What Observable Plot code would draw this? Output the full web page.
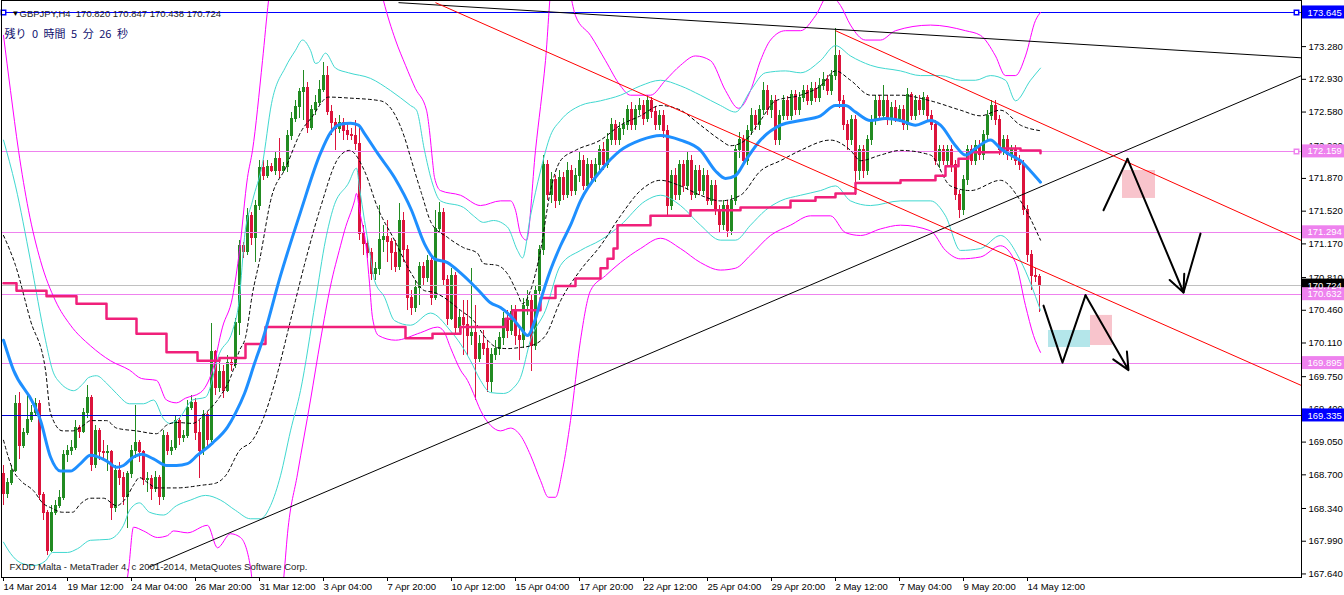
<!DOCTYPE html>
<html><head><meta charset="utf-8">
<script src="https://cdn.jsdelivr.net/npm/d3@7"></script>
<script src="https://cdn.jsdelivr.net/npm/@observablehq/plot@0.6"></script>
<style>
html,body{margin:0;padding:0;background:#fff;}
#chart svg{display:block;}
</style></head><body><div id="chart"></div>
<script>
// ---- candle data (GBPJPY H4), bar index 0 = 14 Mar 2014 20:00 ----
const opens = [168.71,168.50,168.61,168.74,169.46,169.01,169.15,169.29,169.36,169.46,
168.48,168.29,167.89,168.29,168.37,168.45,168.91,168.96,168.99,169.20,
169.16,169.36,169.52,168.80,169.17,168.94,168.93,168.94,168.34,168.74,
168.67,168.46,168.71,168.96,169.04,168.94,168.64,168.66,168.55,168.67,
168.46,169.12,168.96,168.99,169.28,169.09,169.12,169.42,169.47,169.15,
168.96,169.34,169.07,170.01,169.63,169.80,169.60,169.90,169.87,170.32,
171.15,171.08,171.47,171.23,171.58,171.98,171.90,171.99,171.95,172.08,
171.95,171.99,172.32,172.51,172.63,172.79,172.84,172.41,172.60,172.68,
172.82,172.97,172.58,172.46,172.40,172.46,172.38,172.33,172.32,172.24,
171.28,171.17,171.07,170.85,170.90,171.21,171.24,171.19,171.07,170.92,
171.42,171.10,170.59,170.48,170.70,170.92,170.80,170.99,170.59,171.33,
171.50,170.78,170.37,170.83,170.27,170.38,170.30,170.19,170.22,169.94,
170.10,170.05,169.69,169.98,170.05,170.16,170.37,170.24,170.44,170.19,
170.14,170.51,170.56,170.08,170.67,171.10,172.01,171.69,171.85,171.63,
171.87,171.69,171.95,171.74,171.90,172.06,171.79,172.01,171.87,172.01,
172.17,172.01,172.28,172.44,172.28,172.40,172.44,172.60,172.44,172.60,
172.65,172.51,172.70,172.58,172.44,172.54,172.38,171.58,171.90,171.69,
172.01,171.79,172.06,171.69,171.95,171.74,171.90,171.63,171.79,171.53,
171.37,171.58,171.31,171.63,172.17,172.28,172.06,172.38,172.54,172.44,
172.60,172.81,172.60,172.70,172.28,172.54,172.70,172.54,172.76,172.60,
172.73,172.81,172.70,172.83,172.73,172.86,172.92,172.81,172.97,173.18,
172.70,172.44,172.28,172.49,171.95,172.17,171.95,172.28,172.49,172.70,
172.54,172.70,172.49,172.62,172.51,172.60,172.44,172.76,172.54,172.70,
172.60,172.73,172.54,172.44,172.06,172.17,172.06,172.17,172.01,171.69,
171.53,171.85,172.17,172.06,172.22,172.12,172.33,172.54,172.65,172.49,
172.17,172.28,172.12,172.17,172.06,172.01,171.53,171.05,170.83,170.820];
const highs = [168.80,168.66,168.80,169.55,169.58,169.20,169.57,169.44,169.52,169.50,
168.51,168.32,168.37,168.43,168.53,168.96,169.01,169.07,169.28,169.23,
169.41,169.66,169.55,169.23,169.20,169.07,169.01,168.96,168.80,168.83,
168.72,168.74,169.01,169.44,169.07,168.96,168.72,168.69,168.74,168.69,
169.17,169.15,169.07,169.33,169.30,169.17,169.50,169.55,169.52,169.28,
169.39,169.37,170.32,170.03,169.92,169.87,169.98,169.94,170.37,171.21,
171.19,171.55,171.51,171.63,172.06,172.06,172.06,172.03,172.15,172.30,
172.04,172.38,172.58,172.70,172.83,173.02,172.90,172.65,172.76,172.92,
173.11,173.07,172.65,172.51,172.54,172.51,172.47,172.40,172.49,172.40,
171.37,171.23,171.12,170.97,171.58,171.37,171.42,171.23,171.21,171.60,
171.51,171.15,170.67,170.78,170.97,170.97,171.05,171.05,171.53,171.61,
171.55,170.83,170.91,170.86,170.46,170.56,170.56,170.91,170.51,170.19,
170.24,170.14,170.05,170.14,170.22,170.44,170.46,170.51,170.51,170.30,
170.59,170.67,170.62,170.72,171.15,172.12,172.06,171.93,171.90,171.95,
171.93,172.04,172.01,171.98,172.15,172.12,172.08,172.06,172.08,172.22,
172.25,172.35,172.51,172.49,172.47,172.51,172.65,172.68,172.65,172.73,
172.70,172.76,172.74,172.64,172.60,172.60,172.44,171.95,171.98,172.06,
172.06,172.15,172.12,172.01,172.01,171.98,171.95,171.85,171.85,171.58,
171.63,171.63,171.69,172.22,172.36,172.33,172.44,172.62,172.60,172.65,
172.90,172.86,172.76,172.76,172.60,172.76,172.75,172.81,172.81,172.79,
172.86,172.86,172.90,172.90,172.94,173.00,172.97,173.02,173.47,173.24,
172.76,172.49,172.54,172.54,172.22,172.22,172.33,172.54,172.76,172.76,
172.86,172.76,172.68,172.70,172.65,172.65,172.83,172.79,172.76,172.76,
172.79,172.76,172.60,172.49,172.22,172.22,172.22,172.22,172.06,171.74,
171.90,172.22,172.22,172.28,172.28,172.38,172.60,172.70,172.70,172.54,
172.33,172.33,172.22,172.22,172.12,172.06,171.58,171.10,170.91,170.847];
const lows = [168.37,168.45,168.59,168.72,168.86,168.98,169.12,169.26,169.32,168.43,
168.21,167.84,167.87,168.27,168.34,168.43,168.83,168.91,168.96,169.09,
169.14,169.30,168.74,168.77,168.85,168.85,168.74,168.21,168.30,168.59,
168.37,168.13,168.66,168.87,168.83,168.59,168.51,168.43,168.51,168.37,
168.43,168.91,168.91,168.96,169.01,169.05,169.09,169.39,169.07,168.66,
168.91,168.98,169.05,169.55,169.58,169.52,169.58,169.80,169.84,170.19,
171.01,171.05,171.15,170.97,171.53,171.85,171.87,171.93,171.90,171.87,
171.93,171.93,172.28,172.47,172.51,172.49,172.35,172.38,172.54,172.65,
172.79,172.54,172.33,172.17,172.35,172.28,172.28,172.28,172.17,171.21,
171.05,171.01,170.78,170.78,170.83,171.08,170.97,170.89,170.86,170.89,
170.97,170.46,170.40,170.44,170.51,170.72,170.76,170.51,170.56,171.29,
170.72,170.30,170.35,170.19,170.22,169.98,169.98,170.08,169.50,169.90,
169.98,169.58,169.58,169.92,169.98,170.08,170.16,170.19,170.08,169.92,
170.05,170.40,169.80,170.03,170.62,171.05,171.63,171.60,171.55,171.58,
171.63,171.66,171.68,171.69,171.83,171.74,171.74,171.79,171.83,171.95,
171.95,171.98,172.22,172.22,172.22,172.33,172.38,172.38,172.38,172.54,
172.44,172.47,172.51,172.38,172.38,172.30,171.47,171.53,171.63,171.63,
171.72,171.74,171.63,171.66,171.69,171.69,171.58,171.58,171.47,171.29,
171.31,171.24,171.26,171.58,172.08,172.01,172.01,172.33,172.38,172.38,
172.54,172.54,172.51,172.22,172.22,172.49,172.49,172.49,172.54,172.54,
172.68,172.65,172.65,172.68,172.68,172.81,172.76,172.76,172.92,172.62,
172.38,172.17,172.22,171.69,171.85,171.87,171.90,172.22,172.44,172.49,
172.49,172.44,172.44,172.47,172.47,172.38,172.38,172.49,172.49,172.54,
172.54,172.49,172.38,172.01,171.98,172.01,172.01,171.93,171.63,171.44,
171.47,171.79,172.01,172.01,172.06,172.06,172.28,172.49,172.44,172.12,
172.12,172.06,172.06,172.01,171.95,171.47,170.97,170.67,170.76,170.438];
const closes = [168.50,168.61,168.74,169.46,169.01,169.15,169.29,169.36,169.46,168.48,
168.29,167.89,168.29,168.37,168.45,168.91,168.96,168.99,169.20,169.16,
169.36,169.52,168.80,169.17,168.94,168.93,168.94,168.34,168.74,168.67,
168.46,168.71,168.96,169.04,168.94,168.64,168.66,168.55,168.67,168.46,
169.12,168.96,168.99,169.28,169.09,169.12,169.42,169.47,169.15,168.96,
169.34,169.07,170.01,169.63,169.80,169.60,169.90,169.87,170.32,171.15,
171.08,171.47,171.23,171.58,171.98,171.90,171.99,171.95,172.08,171.95,
171.99,172.32,172.51,172.63,172.79,172.84,172.41,172.60,172.68,172.82,
172.97,172.58,172.46,172.40,172.46,172.38,172.33,172.32,172.24,171.28,
171.17,171.07,170.85,170.90,171.21,171.24,171.19,171.07,170.92,171.42,
171.10,170.59,170.48,170.70,170.92,170.80,170.99,170.59,171.33,171.50,
170.78,170.37,170.83,170.27,170.38,170.30,170.19,170.22,169.94,170.10,
170.05,169.69,169.98,170.05,170.16,170.37,170.24,170.44,170.19,170.14,
170.51,170.56,170.08,170.67,171.10,172.01,171.69,171.85,171.63,171.87,
171.69,171.95,171.74,171.90,172.06,171.79,172.01,171.87,172.01,172.17,
172.01,172.28,172.44,172.28,172.40,172.44,172.60,172.44,172.60,172.65,
172.51,172.70,172.58,172.44,172.54,172.38,171.58,171.90,171.69,172.01,
171.79,172.06,171.69,171.95,171.74,171.90,171.63,171.79,171.53,171.37,
171.58,171.31,171.63,172.17,172.28,172.06,172.38,172.54,172.44,172.60,
172.81,172.60,172.70,172.28,172.54,172.70,172.54,172.76,172.60,172.73,
172.81,172.70,172.83,172.73,172.86,172.92,172.81,172.97,173.18,172.70,
172.44,172.28,172.49,171.95,172.17,171.95,172.28,172.49,172.70,172.54,
172.70,172.49,172.62,172.51,172.60,172.44,172.76,172.54,172.70,172.60,
172.73,172.54,172.44,172.06,172.17,172.06,172.17,172.01,171.69,171.53,
171.85,172.17,172.06,172.22,172.12,172.33,172.54,172.65,172.49,172.17,
172.28,172.12,172.17,172.06,172.01,171.53,171.05,170.83,170.82,170.724];

// ---- axis ticks ----
const xTickBars = [0,16,32,48,64,80,96,112,128,144,160,176,192,208,224,240,256];
const xTickLabels = ["14 Mar 2014","19 Mar 12:00","24 Mar 04:00","26 Mar 20:00","31 Mar 12:00","3 Apr 04:00","7 Apr 20:00","10 Apr 12:00","15 Apr 04:00","17 Apr 20:00","22 Apr 12:00","25 Apr 04:00","29 Apr 20:00","2 May 12:00","7 May 04:00","9 May 20:00","14 May 12:00"];
const yTicks = [173.28,172.93,172.58,172.22,171.87,171.52,171.17,170.81,170.46,170.11,169.75,169.40,169.05,168.70,168.34,167.99,167.64];

// ---- indicators: [bar, price] ----
const maBlue = [[0,170.14],[2.5,169.82],[7.5,169.46],[9.25,169.28],[11.75,168.89],[14.25,168.74],[16.75,168.74],[19.25,168.82],[21.75,168.91],[25.75,168.85],[28.25,168.78],[30,168.80],[32.5,168.89],[34.5,168.92],[37.5,168.87],[40.75,168.80],[43.25,168.80],[46,168.82],[48.5,168.91],[52.25,169.04],[56,169.21],[58,169.36],[60.25,169.57],[62.75,169.89],[64.75,170.14],[69.25,170.83],[74.25,171.51],[79.25,172.14],[81.75,172.36],[84.25,172.45],[86.75,172.46],[88.75,172.44],[90.25,172.35],[93.5,172.14],[97.75,171.88],[102,171.53],[105.25,171.17],[107.75,171.01],[111,170.97],[114.25,170.86],[116.75,170.76],[119.25,170.65],[121.75,170.54],[124.25,170.49],[126.75,170.40],[129.25,170.27],[131,170.19],[133,170.37],[134.25,170.56],[136.75,170.89],[139.25,171.15],[141.75,171.37],[144.25,171.63],[149.25,171.95],[154.25,172.17],[159.25,172.28],[164.25,172.33],[169.25,172.28],[174.25,172.17],[178,171.95],[180.5,171.87],[183,171.90],[185.5,172.06],[189.25,172.28],[194.25,172.44],[199.25,172.49],[204.25,172.54],[208,172.65],[210.5,172.65],[213,172.58],[216.75,172.49],[220.5,172.51],[224.25,172.49],[228,172.44],[231.75,172.49],[234.25,172.44],[238,172.22],[240.5,172.12],[243,172.19],[246.75,172.28],[249.25,172.19],[251.75,172.12],[254.25,172.06],[256.75,171.95],[259.25,171.83]];
const maPink = [[0,170.75],[3.25,170.67],[10.75,170.61],[18.25,170.53],[25.75,170.37],[33.25,170.21],[40.75,170.01],[48.5,169.92],[54,169.95],[60.5,170.10],[65.5,170.28],[100.5,170.16],[107.25,170.21],[114.25,170.28],[125.5,170.37],[127.25,170.46],[134.25,170.59],[138,170.72],[143,170.80],[149.25,170.91],[151,171.01],[152.5,171.12],[153.5,171.37],[161.75,171.47],[171.75,171.53],[184.25,171.56],[196.75,171.63],[203,171.67],[208,171.71],[213,171.82],[224.25,171.85],[233,171.90],[235.5,172.00],[238.75,172.08],[241.25,172.15],[249.25,172.19],[254.25,172.17],[259.25,172.14]];
const dashUpper = [[0,171.26],[3,170.94],[6.75,170.35],[10.5,169.82],[11.75,169.36],[14.75,169.17],[17.25,169.17],[20,169.23],[21.75,169.28],[25.75,169.28],[28.25,169.20],[33.25,169.17],[38.25,169.14],[40.75,169.23],[43.25,169.26],[47.25,169.25],[50.5,169.36],[54,169.53],[56.75,169.74],[59,170.03],[60.5,170.17],[62.25,170.64],[64,170.99],[67,171.67],[70.5,171.98],[74.5,172.38],[77,172.52],[81.25,172.74],[86.25,172.73],[94.25,172.70],[97.75,172.56],[100.25,172.31],[102,172.06],[104.5,171.71],[107,171.39],[111,171.24],[115,171.13],[118.5,171.07],[120,170.96],[123.5,170.94],[126,170.85],[128.5,170.64],[129.75,170.53],[131.75,170.67],[134.25,171.10],[136.75,171.74],[139.25,172.06],[143,172.17],[149.25,172.28],[154.25,172.44],[159.25,172.54],[164.25,172.65],[169.25,172.60],[174.25,172.44],[179.25,172.28],[181.75,172.22],[185.5,172.28],[189.25,172.49],[193,172.70],[199.25,172.76],[204.25,172.86],[208,173.02],[211.75,172.92],[216.75,172.76],[224.25,172.76],[231.75,172.70],[239.25,172.60],[244.25,172.54],[249.25,172.60],[254.25,172.44],[259.25,172.38]];
const dashLower = [[0,169.07],[2.5,168.74],[4.25,168.64],[7.5,168.53],[10,168.39],[11.75,168.35],[14.75,168.30],[17.25,168.30],[19.25,168.39],[21.75,168.45],[25,168.45],[28.25,168.37],[30.75,168.46],[32.5,168.59],[34,168.67],[36.25,168.61],[38.25,168.56],[43.25,168.56],[49.75,168.59],[53,168.61],[55.5,168.69],[59,168.96],[62.25,169.07],[64.75,169.28],[68,169.71],[71.75,170.35],[75.5,170.99],[79.25,171.56],[83.75,172.09],[86.5,172.17],[90.25,171.95],[93.5,171.56],[97.75,171.21],[102,170.85],[105.25,170.67],[107.75,170.65],[110,170.60],[114.25,170.46],[117.5,170.35],[121,170.14],[123.5,170.06],[126,170.05],[128.75,170.06],[131.75,170.08],[135.5,170.19],[139.25,170.56],[144.25,170.89],[149.25,171.15],[154.25,171.47],[159.25,171.74],[164.25,171.85],[169.25,171.79],[174.25,171.69],[179.25,171.63],[184.25,171.69],[189.25,171.95],[194.25,172.06],[199.25,172.17],[206.75,172.28],[211.75,172.17],[214.25,172.06],[219.25,172.12],[224.25,172.17],[231.75,172.12],[236.75,171.79],[241.75,171.74],[249.25,171.85],[254.25,171.63],[259.25,171.21]];
const cyanUpper = [[0,172.28],[3,171.79],[6.75,170.99],[10.5,170.14],[12.25,169.82],[14.25,169.68],[16,169.62],[17.5,169.60],[20,169.68],[21.25,169.74],[23.25,169.76],[25.75,169.68],[28.25,169.57],[31.5,169.46],[35,169.46],[37.5,169.50],[40,169.30],[41.5,169.25],[44,169.31],[47.25,169.50],[50.5,169.53],[54,170.00],[57.25,170.24],[59,170.60],[60.25,171.24],[62.25,171.63],[64.75,172.03],[67,172.67],[70.5,173.06],[73,173.24],[74.75,173.35],[76.75,173.24],[78,173.10],[78.75,173.11],[80.5,173.21],[83,173.05],[86.25,173.00],[91.75,172.94],[96.75,172.81],[101.75,172.65],[103.25,172.60],[105.25,172.17],[107,171.85],[109.25,171.63],[115,171.56],[117.5,171.47],[120,171.40],[122.5,171.42],[126,171.35],[128.5,171.10],[129.75,171.02],[131.75,171.47],[134.25,171.95],[136.75,172.33],[139.25,172.49],[144.25,172.65],[149.25,172.70],[154.25,172.76],[159.25,172.86],[164.25,172.92],[169.25,172.86],[174.25,172.76],[179.25,172.65],[183,172.58],[186.75,172.81],[190.5,173.00],[195.5,173.02],[199.25,173.00],[204.25,173.13],[208,173.29],[211.75,173.18],[216.75,173.08],[224.25,173.02],[229.25,172.97],[234.25,172.97],[239.25,172.92],[243,172.92],[246.75,172.97],[250.5,172.92],[253,172.70],[256.75,172.92],[259.25,173.05]];
const cyanLower = [[0,167.98],[1.75,167.86],[4.25,167.76],[7.5,167.73],[10.5,167.78],[12.25,167.87],[16,167.87],[18.5,167.91],[21.75,168.00],[26.25,168.01],[30,168.16],[31.5,168.32],[34,168.40],[36.5,168.30],[40,168.27],[43.25,168.37],[46.75,168.43],[50.5,168.48],[54.25,168.43],[58,168.32],[61.75,168.23],[64.25,168.23],[66.75,168.37],[69.25,168.69],[71.75,169.17],[74.25,169.60],[78,170.56],[80.5,171.21],[82.5,171.56],[86.25,171.82],[88.25,171.98],[89,171.77],[90.25,171.42],[91.5,171.10],[92.75,170.78],[95.25,170.60],[97.75,170.35],[101.75,170.30],[106.75,170.43],[111.75,170.24],[114.25,170.10],[116.75,169.92],[119.25,169.71],[121.75,169.58],[125,169.57],[127.5,169.63],[129.25,169.74],[131.75,170.14],[135.5,170.46],[139.25,170.94],[144.25,171.10],[149.25,171.21],[154.25,171.37],[160.5,171.63],[164.25,171.69],[169.25,171.58],[174.25,171.37],[179.25,171.21],[183,171.21],[186.75,171.37],[190.5,171.53],[194.25,171.63],[199.25,171.69],[204.25,171.74],[208,171.79],[211.75,171.63],[216.75,171.58],[224.25,171.63],[231.75,171.63],[235.5,171.47],[239.25,171.10],[244.25,171.12],[249.25,171.26],[254.25,170.99],[259.25,170.46]];
const magentaUpper = [[0,173.40],[1.75,172.81],[3.75,172.17],[6.25,171.53],[9.25,170.99],[13,170.56],[16.75,170.30],[21.75,170.08],[26.75,169.92],[31.5,169.82],[34.5,169.73],[38.25,169.71],[40.75,169.50],[43.25,169.47],[45.5,169.52],[49.25,169.58],[52.25,169.82],[54.75,170.28],[57.25,170.60],[59,171.10],[61,171.88],[62.25,172.17],[64.75,173.13],[66.25,173.77],[67.75,174.20],[93.25,174.09],[95,173.77],[98,173.35],[100.5,173.08],[103,172.83],[105.75,172.60],[106.5,172.38],[107.25,172.06],[107.75,171.88],[109.25,171.74],[114.25,171.69],[119.25,171.58],[124.25,171.63],[126.75,171.63],[128,171.53],[129.25,171.28],[130.75,171.21],[133,172.17],[135.5,173.13],[137.25,173.99],[140.5,173.99],[143,173.61],[146.75,173.40],[150.5,173.13],[154.25,172.86],[156.75,172.76],[161.75,172.76],[165.5,172.92],[169.25,173.08],[173,173.18],[176.75,173.13],[180.5,172.81],[183.75,172.62],[186.75,172.81],[189.25,173.13],[191.75,173.35],[195.5,173.45],[199.25,173.45],[203,173.61],[206.25,173.83],[209.25,173.72],[211.75,173.51],[215.5,173.35],[219.25,173.35],[223,173.45],[231.75,173.51],[240.5,173.45],[244.25,173.40],[248,173.18],[250.5,172.97],[253,172.97],[255.5,173.18],[258,173.56],[259.25,173.645]];
const magentaLower = [[28.75,167.14],[31.25,167.68],[32.5,168.14],[35,168.10],[38.5,168.03],[41,168.05],[42.5,168.10],[46,168.08],[51,168.16],[53.5,167.92],[56.75,168.07],[59.25,168.03],[61.75,167.71],[63.25,167.14],[68.75,167.14],[70,167.57],[71,168.07],[73.5,168.71],[76.75,169.50],[79.25,170.14],[81.75,170.72],[84.25,171.15],[85.25,171.31],[87.75,171.63],[88.25,171.71],[89,171.53],[90.75,171.10],[91.5,170.75],[92.25,170.38],[93.75,170.19],[98,170.14],[104.25,170.22],[108.5,170.28],[110,170.24],[111.75,170.06],[114.25,169.82],[116,169.71],[117.5,169.57],[119.25,169.39],[121.75,169.23],[124.25,169.17],[126.75,169.20],[129.25,169.12],[131.75,168.91],[134.25,168.64],[136.25,168.46],[138,168.46],[139.75,168.75],[141.75,169.28],[144.25,170.14],[146.75,170.67],[150.5,170.83],[154.25,170.97],[159.25,171.12],[164.25,171.23],[169.25,171.12],[174.25,170.97],[179.25,170.89],[183,170.91],[186.75,171.05],[191.75,171.26],[196.75,171.37],[201.75,171.47],[206.75,171.47],[210.5,171.29],[214.25,171.26],[219.25,171.33],[224.25,171.37],[231.75,171.31],[235.5,171.10],[239.25,171.01],[244.25,171.03],[249.25,171.15],[253,170.97],[255.5,170.51],[257.5,170.19],[259.25,170.01]];

// ---- drawn objects ----
const levelPrices = [173.645, 172.159, 171.294, 170.724, 170.632, 169.895, 169.335];
const levelColors = ["#0000ff", "#ee82ee", "#ee82ee", "#c0c0c0", "#ee82ee", "#ee82ee", "#0000cd"];
const levelBoxColors = ["#0000ff", "#ee82ee", "#ee82ee", "#000000", "#ee82ee", "#ee82ee", "#0000ff"];
const trendLines = [
  {x1: 98.75, y1: 173.75, x2: 324.5, y2: 173.16, color: "#000000"},
  {x1: 36.25, y1: 167.71, x2: 324.5, y2: 172.97, color: "#000000"},
  {x1: 108, y1: 173.75, x2: 324.5, y2: 169.655, color: "#ff0000"},
  {x1: 208, y1: 173.45, x2: 324.5, y2: 171.206, color: "#ff0000"}
];
const zigzagA = [[275,171.53],[281,172.08]];
const zigzagB = [[295,170.65],[299.25,171.28]];
const zigzagC = [[260,170.51],[264.75,169.90],[270.5,170.62]];
const arrowSegs = [
  {x1: 281, y1: 172.08, x2: 295, y2: 170.65},
  {x1: 270.5, y1: 170.62, x2: 281.25, y2: 169.82}
];
const boxes = [
  {x1: 279.75, x2: 288, y1: 171.955, y2: 171.656, fill: "#f8c4cc"},
  {x1: 271.75, x2: 277.25, y1: 170.405, y2: 170.083, fill: "#f8c4cc"},
  {x1: 261.25, x2: 271.75, y1: 170.244, y2: 170.062, fill: "#b4e6ea"}
];
const headerText = "GBPJPY,H4  170.820 170.847 170.438 170.724";
const timerText = "残り\u20020\u2002時間\u20025\u2002分\u200226\u2002秒";
const footerText = "FXDD Malta - MetaTrader 4, c 2001-2014, MetaQuotes Software Corp.";

const xDomain = [-0.5, 324.5];
const yDomain = [167.602, 173.773];
const UP = "#228b22", DOWN = "#dc143c";

const candles = opens.map((o, i) => ({i, o, h: highs[i], l: lows[i], c: closes[i], col: closes[i] >= o ? UP : DOWN}));
const pts = a => a.map(([x, y]) => ({x, y}));
const labelMap = new Map(xTickBars.map((b, k) => [b, xTickLabels[k]]));
const levels = levelPrices.map((p, k) => ({p, col: levelColors[k], box: levelBoxColors[k]}));
const boxHalf = 6.5 / 93.5;

const chart = Plot.plot({
  width: 1344, height: 595,
  marginTop: 0, marginBottom: 18, marginLeft: 1, marginRight: 43,
  x: {domain: xDomain, axis: null},
  y: {domain: yDomain, axis: null},
  style: {fontFamily: "'Liberation Sans', Arial, sans-serif", fontSize: "9.5px", background: "#fff", color: "#000", overflow: "visible"},
  marks: [
    Plot.rect(boxes, {x1: "x1", x2: "x2", y1: "y1", y2: "y2", fill: "fill"}),
    Plot.ruleX(candles, {x: "i", y1: "l", y2: "h", stroke: "col", strokeWidth: 1, shapeRendering: "crispEdges"}),
    Plot.rect(candles, {x1: d => d.i - 0.375, x2: d => d.i + 0.375, y1: "o", y2: "c", fill: "col", insetTop: -0.5, insetBottom: -0.5, shapeRendering: "crispEdges"}),
    Plot.ruleY(levels, {y: "p", stroke: "col", strokeWidth: 1, shapeRendering: "crispEdges"}),
    Plot.line(pts(magentaUpper), {x: "x", y: "y", stroke: "#ff00ff", strokeWidth: 1, curve: "monotone-x", clip: true}),
    Plot.line(pts(magentaLower), {x: "x", y: "y", stroke: "#ff00ff", strokeWidth: 1, curve: "monotone-x", clip: true}),
    Plot.line(pts(cyanUpper), {x: "x", y: "y", stroke: "#40d8d0", strokeWidth: 1, curve: "monotone-x", clip: true}),
    Plot.line(pts(cyanLower), {x: "x", y: "y", stroke: "#40d8d0", strokeWidth: 1, curve: "monotone-x", clip: true}),
    Plot.line(pts(dashUpper), {x: "x", y: "y", stroke: "#000", strokeWidth: 1, strokeDasharray: "3,3", curve: "monotone-x", clip: true}),
    Plot.line(pts(dashLower), {x: "x", y: "y", stroke: "#000", strokeWidth: 1, strokeDasharray: "3,3", curve: "monotone-x", clip: true}),
    Plot.line(pts(maPink), {x: "x", y: "y", stroke: "#f0207a", strokeWidth: 2.5, curve: "step-after", clip: true}),
    Plot.line(pts(maBlue), {x: "x", y: "y", stroke: "#1e8fff", strokeWidth: 3, curve: "monotone-x", clip: true}),
    Plot.link(trendLines, {x1: "x1", y1: "y1", x2: "x2", y2: "y2", stroke: "color", strokeWidth: 1, clip: true}),
    Plot.line(pts(zigzagA), {x: "x", y: "y", stroke: "#000", strokeWidth: 2}),
    Plot.line(pts(zigzagB), {x: "x", y: "y", stroke: "#000", strokeWidth: 2}),
    Plot.line(pts(zigzagC), {x: "x", y: "y", stroke: "#000", strokeWidth: 2}),
    Plot.arrow(arrowSegs, {x1: "x1", y1: "y1", x2: "x2", y2: "y2", stroke: "#000", strokeWidth: 2, headLength: 14, headAngle: 50}),
    Plot.dot([{x: 0, y: 173.645, c: "#0000ff"}, {x: 323.25, y: 173.645, c: "#0000ff"}, {x: 323.25, y: 172.159, c: "#ee82ee"}], {x: "x", y: "y", stroke: "c", fill: "#fff", symbol: "square", r: 2.5}),
    Plot.frame({stroke: "#000"}),
    Plot.axisX(xTickBars, {anchor: "bottom", tickSize: 4, tickPadding: 2, textAnchor: "start", dx: 0, tickFormat: d => labelMap.get(d), label: null, stroke: "#000", fill: "#000", fontSize: 9.5}),
    Plot.axisY(yTicks, {anchor: "right", tickSize: 4, tickPadding: 3, tickFormat: d => d.toFixed(3), label: null, stroke: "#000", fill: "#000", fontSize: 9.5}),
    Plot.rect(levels, {x1: xDomain[1] + 0.25, x2: xDomain[1] + 10.75, y1: d => d.p - boxHalf, y2: d => d.p + boxHalf, fill: "box"}),
    Plot.text(levels, {x: xDomain[1], y: "p", text: d => d.p.toFixed(3), dx: 6, textAnchor: "start", fill: "#fff", fontSize: 9.5}),
    Plot.text(["▼"], {frameAnchor: "top-left", dx: 10, dy: 10, fontSize: 8, fill: "#000"}),
    Plot.text([headerText], {frameAnchor: "top-left", dx: 18, dy: 10, textAnchor: "start", fontSize: 9.5, fill: "#222"}),
    Plot.text([timerText], {frameAnchor: "top-left", dx: 3, dy: 30, textAnchor: "start", fontSize: 11, fill: "#10106e", fontFamily: "'Noto Sans CJK JP', sans-serif"}),
    Plot.text([footerText], {frameAnchor: "bottom-left", dx: 8, dy: -8, textAnchor: "start", fontSize: 9.5, fill: "#222"})
  ]
});
document.getElementById("chart").append(chart);
</script>
</body></html>
